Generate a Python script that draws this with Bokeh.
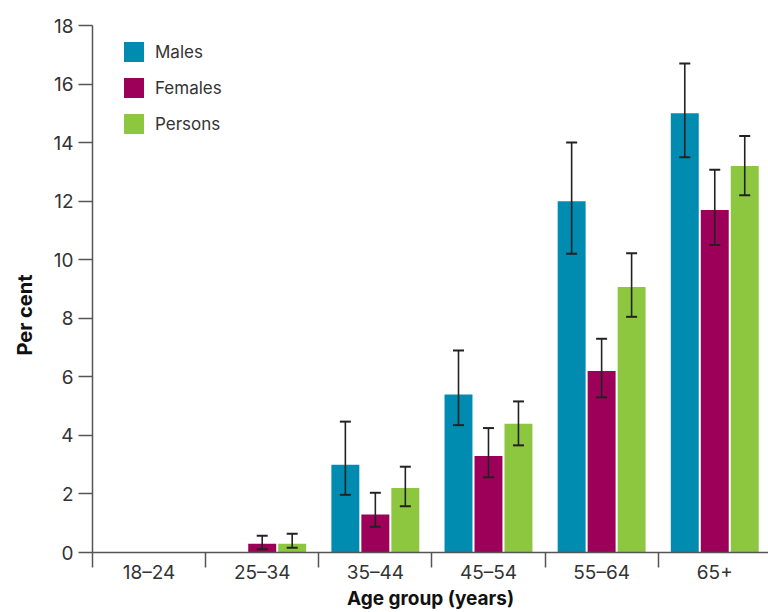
from bokeh.plotting import figure
from bokeh.models import (ColumnDataSource, FixedTicker, Whisker, TeeHead, Legend,
                          LegendItem, Range1d, Title)
from bokeh.embed import file_html
from bokeh.resources import INLINE

# ---- data ----
categories = ["18–24", "25–34", "35–44", "45–54", "55–64", "65+"]
series_names = ["Males", "Females", "Persons"]

males = [None, None, 3.0, 5.4, 12.0, 15.0]
males_lo = [None, None, 1.97, 4.35, 10.2, 13.5]
males_hi = [None, None, 4.47, 6.9, 14.0, 16.7]

females = [None, 0.3, 1.3, 3.3, 6.2, 11.7]
females_lo = [None, 0.11, 0.88, 2.57, 5.3, 10.5]
females_hi = [None, 0.57, 2.04, 4.25, 7.3, 13.07]

persons = [None, 0.3, 2.2, 4.4, 9.07, 13.2]
persons_lo = [None, 0.16, 1.58, 3.66, 8.05, 12.2]
persons_hi = [None, 0.64, 2.93, 5.16, 10.22, 14.23]

y_ticks = [0, 2, 4, 6, 8, 10, 12, 14, 16, 18]

colors = ["#008BB0", "#9C0058", "#8DC63F"]
offsets = [-0.265, 0.0, 0.265]
bar_width = 0.247
FONT = "Inter"

p = figure(width=768, height=612, output_backend="svg", toolbar_location=None,
           x_range=Range1d(0, 5.975), y_range=Range1d(0, 18),
           min_border_left=91, min_border_right=0, min_border_top=25,
           min_border_bottom=60)
p.outline_line_color = None
p.xgrid.grid_line_color = None
p.ygrid.grid_line_color = None
p.background_fill_color = "white"
p.border_fill_color = "white"

all_series = [(males, males_lo, males_hi), (females, females_lo, females_hi),
              (persons, persons_lo, persons_hi)]

renderers = []
for (vals, lo, hi), col, off in zip(all_series, colors, offsets):
    xs, tops, los, his = [], [], [], []
    for i, v in enumerate(vals):
        if v is None:
            continue
        xs.append(i + 0.5 + off)
        tops.append(v)
        los.append(lo[i])
        his.append(hi[i])
    src = ColumnDataSource(dict(x=xs, top=tops, lo=los, hi=his))
    r = p.vbar(x="x", top="top", width=bar_width, source=src,
               fill_color=col, line_color=None)
    renderers.append(r)
    w = Whisker(base="x", upper="hi", lower="lo", source=src, level="overlay",
                line_color="#222222", line_width=1.6,
                upper_head=TeeHead(size=11, line_color="#222222", line_width=2),
                lower_head=TeeHead(size=11, line_color="#222222", line_width=2))
    p.add_layout(w)

# ---- axes ----
xa = p.xaxis[0]
xa.ticker = FixedTicker(ticks=[i + 0.5 for i in range(len(categories))],
                        minor_ticks=list(range(len(categories))))
xa.major_label_overrides = {i + 0.5: c for i, c in enumerate(categories)}
xa.major_tick_out = 0
xa.major_tick_in = 0
xa.minor_tick_out = 15
xa.minor_tick_in = 0
xa.minor_tick_line_color = "#555555"
xa.minor_tick_line_width = 1.5
xa.axis_line_color = "#555555"
xa.axis_line_width = 1.5
xa.major_label_text_font = FONT
xa.major_label_text_font_size = "19px"
xa.major_label_text_color = "#333333"
xa.major_label_standoff = -7
xa.axis_label = "Age group (years)"
xa.axis_label_text_font = FONT
xa.axis_label_text_font_size = "19px"
xa.axis_label_text_font_style = "bold"
xa.axis_label_text_color = "#111111"
xa.axis_label_standoff = 0

ya = p.yaxis[0]
ya.ticker = FixedTicker(ticks=y_ticks, minor_ticks=[])
ya.major_tick_out = 14
ya.major_tick_in = 0
ya.minor_tick_out = 0
ya.minor_tick_in = 0
ya.major_tick_line_color = "#555555"
ya.major_tick_line_width = 1.5
ya.axis_line_color = "#555555"
ya.axis_line_width = 1.5
ya.major_label_text_font = FONT
ya.major_label_text_font_size = "19px"
ya.major_label_text_color = "#333333"
ya.major_label_standoff = 5

# ---- y-axis title ----
ytitle = Title(text="Per cent", align="left", offset=197, standoff=24,
               vertical_align="top", text_font=FONT, text_font_size="20px",
               text_font_style="bold", text_color="#111111")
p.add_layout(ytitle, "left")

# ---- legend ----
legend = Legend(items=[LegendItem(label=n, renderers=[r]) for n, r in zip(series_names, renderers)],
                location=(29, 416), glyph_width=25, glyph_height=25, label_height=25,
                spacing=11, padding=0, margin=0, border_line_color=None,
                background_fill_alpha=0, label_text_font=FONT,
                label_text_font_size="17px", label_text_color="#333333",
                label_standoff=9)
p.add_layout(legend)

open("out.html", "w").write(file_html(p, INLINE))
